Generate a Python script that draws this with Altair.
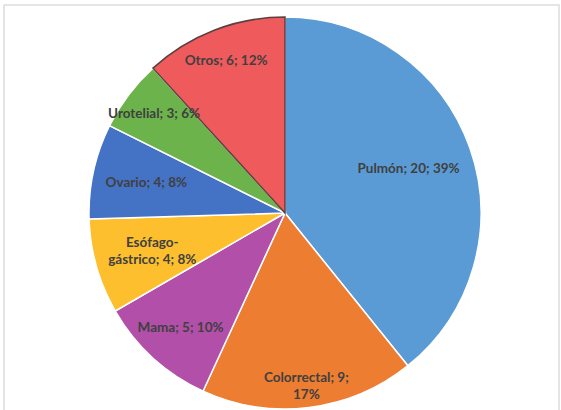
import altair as alt
import pandas as pd

categories = ["Pulmón", "Colorrectal", "Mama", "Esófago-gástrico", "Ovario", "Urotelial", "Otros"]
counts = [20, 9, 5, 4, 4, 3, 6]
percents = [39, 17, 10, 8, 8, 6, 12]

colors = ["#5B9BD5", "#ED7D31", "#B24FA8", "#FDBF2D", "#4472C4", "#6BB34A", "#EF5A5C"]

# label text built from data; Excel-style line breaks for two labels
labels = [f"{c}; {n}; {p}%" for c, n, p in zip(categories, counts, percents)]
labels[1] = labels[1].replace("; 17%", ";\n17%")
labels[3] = labels[3].replace("Esófago-", "Esófago-\n")

df = pd.DataFrame({
    "cat": categories,
    "n": counts,
    "label": labels,
    "order": list(range(len(categories))),
})

W, H = 561, 410
CX, CY, R = 285, 213, 196
label_radius = [131, 174, 155, 138, 142, 164, 163]

base = alt.Chart(df).encode(
    theta=alt.Theta("n:Q", stack=True),
    order=alt.Order("order:Q", sort="ascending"),
)

pie = base.mark_arc(outerRadius=R, strokeWidth=1.5).encode(
    color=alt.Color("cat:N", scale=alt.Scale(domain=categories, range=colors), legend=None),
    stroke=alt.condition(alt.datum.cat == "Otros", alt.value("#5b4040"), alt.value("#ffffff")),
    x=alt.value(CX),
    y=alt.value(CY),
)

text_layers = []
for i, r in enumerate(label_radius):
    two_lines = "\n" in labels[i]
    t = base.transform_calculate(
        lab=f"datum.order == {i} ? datum.label : ''"
    ).mark_text(
        radius=r, font="Lato", fontWeight="bold", fontSize=13.5, color="#404040",
        lineBreak="\n", align="center", baseline="middle", lineHeight=17,
        dy=-8 if two_lines else 0,
    ).encode(
        text="lab:N",
        x=alt.value(CX),
        y=alt.value(CY),
    )
    text_layers.append(t)

frame = alt.Chart(pd.DataFrame({"a": [0]})).mark_rect(
    fill="transparent", stroke="#dddddd", strokeWidth=1.5
).encode(
    x=alt.value(4), x2=alt.value(559), y=alt.value(5), y2=alt.value(430)
)

chart = alt.layer(frame, pie, *text_layers).properties(
    width=W, height=H, padding=0, autosize="none", background="white"
).configure_view(strokeWidth=0)

chart.save("out.html", embed_options={"renderer": "svg", "actions": False})
